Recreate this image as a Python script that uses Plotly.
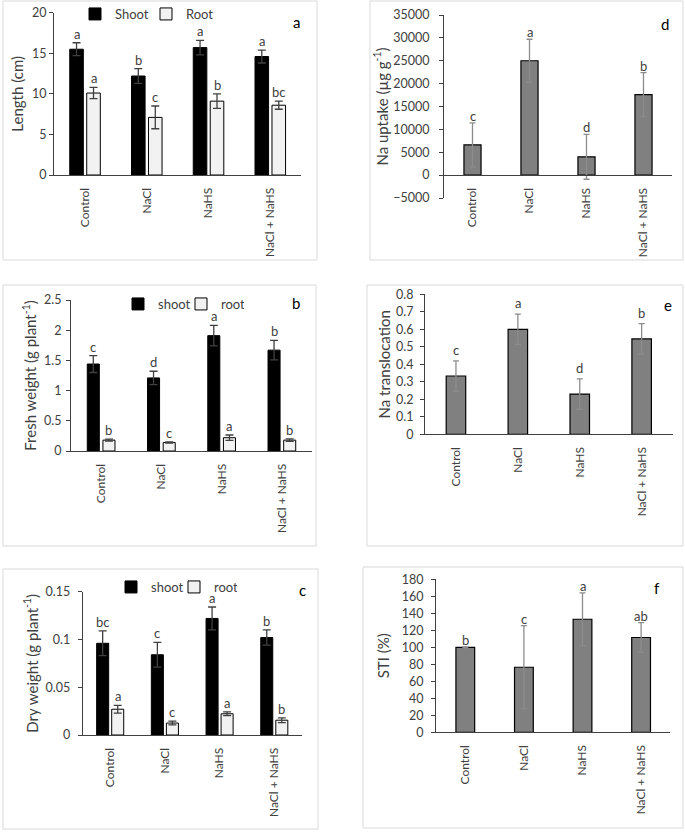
import plotly.graph_objects as go

W, H = 685, 832
FONT = "Lato"
TXT = "#404040"
AX = "#404040"

categories = ["Control", "NaCl", "NaHS", "NaCl + NaHS"]

# Panel a - Length (cm)
length_shoot = [15.5, 12.2, 15.7, 14.6]
length_shoot_err = [0.8, 0.9, 0.9, 0.8]
length_root = [10.1, 7.1, 9.1, 8.6]
length_root_err = [0.7, 1.4, 0.9, 0.5]
length_shoot_letters = ["a", "b", "a", "a"]
length_root_letters = ["a", "c", "b", "bc"]

# Panel b - Fresh weight
fw_shoot = [1.44, 1.21, 1.91, 1.67]
fw_shoot_err = [0.14, 0.11, 0.17, 0.16]
fw_root = [0.18, 0.14, 0.22, 0.18]
fw_root_err = [0.015, 0.01, 0.045, 0.02]
fw_shoot_letters = ["c", "d", "a", "b"]
fw_root_letters = ["b", "c", "a", "b"]

# Panel c - Dry weight
dw_shoot = [0.096, 0.084, 0.122, 0.102]
dw_shoot_err = [0.013, 0.013, 0.012, 0.008]
dw_root = [0.027, 0.0125, 0.0222, 0.0155]
dw_root_err = [0.004, 0.002, 0.002, 0.0025]
dw_shoot_letters = ["bc", "c", "a", "b"]
dw_root_letters = ["a", "c", "a", "b"]

# Panel d - Na uptake
na_uptake = [6600, 25000, 4000, 17600]
na_uptake_err = [4800, 4700, 4900, 4800]
na_uptake_letters = ["c", "a", "d", "b"]

# Panel e - Na translocation
na_transloc = [0.333, 0.600, 0.230, 0.545]
na_transloc_err = [0.087, 0.087, 0.087, 0.087]
na_transloc_letters = ["c", "a", "d", "b"]

# Panel f - STI
sti = [100, 76.5, 133, 111.5]
sti_err = [0.4, 49, 31, 17.5]
sti_letters = ["b", "c", "a", "ab"]


def fx(px):
    return px / W


def fy(py):
    return 1 - py / H


fig = go.Figure()
annotations = []
shapes = []

# panel frames (px): x0, y0, x1, y1
frames = [(3, 1, 317, 260), (370, 1, 683, 260),
          (3, 285, 316, 546), (367, 285, 683, 546),
          (3, 569, 318, 829), (363, 567, 683, 828)]
for x0, y0, x1, y1 in frames:
    shapes.append(dict(type="rect", xref="paper", yref="paper",
                       x0=fx(x0), x1=fx(x1), y0=fy(y1), y1=fy(y0),
                       line=dict(color="#d9d9d9", width=1), fillcolor="rgba(0,0,0,0)",
                       layer="below"))

# plot areas (px): x0, x1, ytop, ybottom, yrange, dtick, title, label standoff, title standoff
areas = {
    1: (54, 301, 12.7, 175, [0, 20], 5, "Length (cm)", 0, 4),
    2: (444, 672, 15, 198, [-5000, 35000], 5000, "Na uptake (µg g<sup>-1</sup>)", 7, 1),
    3: (71, 312, 300, 451, [0, 2.5], 0.5, "Fresh weight (g plant<sup>-1</sup>)", 2, 3),
    4: (425, 672.6, 294.3, 434.3, [0, 0.8], 0.1, "Na translocation", 4, 1),
    5: (82.7, 301.5, 591.7, 735, [0, 0.15], 0.05, "Dry weight (g plant<sup>-1</sup>)", 5, 3),
    6: (436, 670.4, 579.3, 732.3, [0, 180], 20, "STI (%)", 5, 8),
}

layout_axes = {}
for k, (x0, x1, yt, yb, yr, dt, title, lso, tso) in areas.items():
    xn = "xaxis" if k == 1 else f"xaxis{k}"
    yn = "yaxis" if k == 1 else f"yaxis{k}"
    xa = dict(domain=[fx(x0), fx(x1)], anchor=("y" if k == 1 else f"y{k}"),
              type="category", categoryorder="array", categoryarray=categories,
              tickangle=-90, showline=True, linecolor=AX, linewidth=1,
              ticks="", showgrid=False, zeroline=False,
              tickfont=dict(family=FONT, size=12, color=TXT), ticklabelstandoff=7)
    if yr[0] < 0:
        zero_py = yb - (0 - yr[0]) / (yr[1] - yr[0]) * (yb - yt)
        xa["anchor"] = "free"
        xa["position"] = fy(zero_py)
    ya = dict(domain=[fy(yb), fy(yt)], anchor=("x" if k == 1 else f"x{k}"),
              range=yr, dtick=dt, tick0=0, showline=True, linecolor=AX, linewidth=1,
              ticks="outside", ticklen=4, tickcolor=AX, showgrid=False, zeroline=False,
              tickformat=("d" if dt >= 1 else ""), ticklabelstandoff=lso,
              tickfont=dict(family=FONT, size=12.5, color=TXT),
              title=dict(text=title, font=dict(family=FONT, size=15, color=TXT), standoff=tso))
    layout_axes[xn] = xa
    layout_axes[yn] = ya


def add_group(k, shoot, shoot_err, root, root_err, s_letters, r_letters, names, legend,
              s_off, r_off, bw):
    xs = "x" if k == 1 else f"x{k}"
    ys = "y" if k == 1 else f"y{k}"
    fig.add_trace(go.Bar(x=categories, y=shoot, name=names[0], xaxis=xs, yaxis=ys,
                         offset=s_off, width=bw, legend=legend,
                         marker=dict(color="#000000", line=dict(color="#000000", width=1)),
                         error_y=dict(type="data", array=shoot_err, color="#404040",
                                      thickness=1.3, width=4)))
    fig.add_trace(go.Bar(x=categories, y=root, name=names[1], xaxis=xs, yaxis=ys,
                         offset=r_off, width=bw, legend=legend,
                         marker=dict(color="#f2f2f2", line=dict(color="#000000", width=1)),
                         error_y=dict(type="data", array=root_err, color="#404040",
                                      thickness=1.3, width=4)))
    x0, x1 = areas[k][0], areas[k][1]
    sp = (x1 - x0) / len(categories)
    for vals, errs, lets, off in ((shoot, shoot_err, s_letters, s_off),
                                  (root, root_err, r_letters, r_off)):
        for c, v, e, t in zip(categories, vals, errs, lets):
            annotations.append(dict(x=c, y=v + e, xref=xs, yref=ys, text=t,
                                    showarrow=False, yanchor="bottom",
                                    xshift=(off + bw / 2) * sp, yshift=-1,
                                    font=dict(family=FONT, size=13, color=TXT)))


def add_single(k, vals, errs, lets, bw, yshift):
    xs = f"x{k}"
    ys = f"y{k}"
    fig.add_trace(go.Bar(x=categories, y=vals, xaxis=xs, yaxis=ys, width=bw,
                         showlegend=False,
                         marker=dict(color="#808080", line=dict(color="#000000", width=1.2)),
                         error_y=dict(type="data", array=errs, color="#8c8c8c",
                                      thickness=1.3, width=3)))
    for c, v, e, t in zip(categories, vals, errs, lets):
        annotations.append(dict(x=c, y=v + e, xref=xs, yref=ys, text=t,
                                showarrow=False, yanchor="bottom", yshift=yshift,
                                font=dict(family=FONT, size=13, color=TXT)))


add_group(1, length_shoot, length_shoot_err, length_root, length_root_err,
          length_shoot_letters, length_root_letters, ["Shoot", "Root"], "legend",
          -0.245, 0.03, 0.22)
add_group(3, fw_shoot, fw_shoot_err, fw_root, fw_root_err,
          fw_shoot_letters, fw_root_letters, ["shoot", "root"], "legend2",
          -0.23, 0.03, 0.2)
add_group(5, dw_shoot, dw_shoot_err, dw_root, dw_root_err,
          dw_shoot_letters, dw_root_letters, ["shoot", "root"], "legend3",
          -0.245, 0.03, 0.22)
add_single(2, na_uptake, na_uptake_err, na_uptake_letters, 0.3, -3)
add_single(4, na_transloc, na_transloc_err, na_transloc_letters, 0.315, 1)
add_single(6, sti, sti_err, sti_letters, 0.32, -3)

# panel letters
for t, px, py in (("a", 296, 22), ("d", 665, 24), ("b", 296, 303),
                  ("e", 668, 305), ("c", 302, 590), ("f", 657, 588)):
    annotations.append(dict(x=fx(px), y=fy(py), xref="paper", yref="paper", text=t,
                            showarrow=False, xanchor="center", yanchor="middle",
                            font=dict(family=FONT, size=15, color="#000000")))

leg_common = dict(orientation="h", xanchor="left", yanchor="middle",
                  bgcolor="rgba(0,0,0,0)", borderwidth=0,
                  font=dict(family=FONT, size=13, color=TXT), itemclick=False)

fig.update_layout(
    width=W, height=H, margin=dict(l=0, r=0, t=0, b=0, autoexpand=False),
    paper_bgcolor="white", plot_bgcolor="white",
    barmode="overlay", showlegend=True,
    legend=dict(x=fx(75), y=fy(14), entrywidth=26, **leg_common),
    legend2=dict(x=fx(118), y=fy(304), entrywidth=18, **leg_common),
    legend3=dict(x=fx(111), y=fy(587), entrywidth=18, **leg_common),
    annotations=annotations, shapes=shapes,
    **layout_axes,
)

fig.write_html("out.html", config={"displayModeBar": False},
               post_script="document.body.style.margin='0';")
